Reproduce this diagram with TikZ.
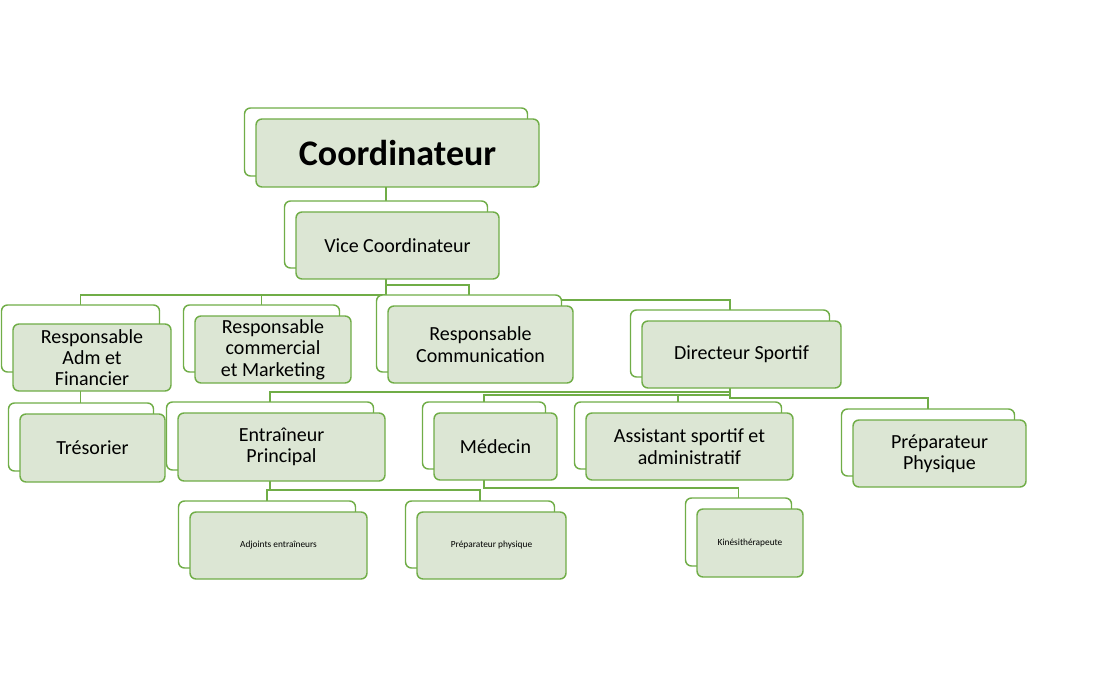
\documentclass[tikz,border=0pt]{standalone}
\usepackage{fontspec}
\setmainfont{Carlito}
\definecolor{gborder}{HTML}{70AD47}
\definecolor{gfill}{HTML}{DCE6D4}
\begin{document}
\begin{tikzpicture}[x=0.75pt,y=-0.75pt,
  backbox/.style={draw=gborder,fill=white,rounded corners=4.5pt,line width=1.1pt,inner sep=0pt},
  frontbox/.style={draw=gborder,fill=gfill,rounded corners=4.5pt,line width=1.1pt,inner sep=0pt,align=center,font=\fontsize{15}{16}\selectfont},
  link/.style={draw=gborder,line width=1.1pt}]
\useasboundingbox (0,0) rectangle (1104,688);
\newcommand\ob[7]{%
  \pgfmathsetmacro\bx{#2-11.5}\pgfmathsetmacro\by{#3-11}%
  \node[backbox,minimum width=#4*0.75pt,minimum height=#5*0.75pt] (b#1) at (\bx,\by) {};
  \node[frontbox,minimum width=#4*0.75pt,minimum height=#5*0.75pt,#7] (#1) at (#2,#3) {#6};}
% connectors (drawn first; boxes cover them)
\begin{scope}[on background layer/.try]\end{scope}
\coordinate (cA) at (386,187);
\path[link] (386,187) -- (386,201);
\path[link] (386,279) -- (386,300) -| (730,310);
\path[link] (386,295) -| (80.5,305);
\path[link] (261.5,295) -- (261.5,305);
\path[link] (386,285) -| (469,295);
\path[link] (80.5,383) -- (80.5,403);
\path[link] (730,388) |- (270,392) -- (270,402);
\path[link] (730,392) |- (484,395) -- (484,402);
\path[link] (678,395) -- (678,402);
\path[link] (730,395) |- (928,398) -- (928,409);
\path[link] (270,481) |- (267,490) -- (267,501);
\path[link] (270,490) -| (480,501);
\path[link] (484,480) |- (738.5,488) -- (738.5,498);
% boxes
\ob{coord}{397.5}{153}{283}{68}{\textbf{Coordinateur}}{font=\fontsize{27}{30}\selectfont}
\ob{vice}{397.5}{245.5}{203}{67}{Vice Coordinateur}{}
\ob{adm}{92}{349.5}{158}{67}{\raisebox{0pt}{}Responsable\\Adm et\\Financier}{yshift=-6pt}
\ob{com}{273}{349.5}{156}{67}{Responsable\\commercial\\et Marketing}{}
\ob{comm}{480.5}{344.5}{185}{77}{Responsable\\Communication}{}
\ob{dir}{741.5}{354.5}{199}{67}{Directeur Sportif}{}
\ob{tres}{92.5}{448}{145}{68}{Trésorier}{}
\ob{entr}{281.5}{447}{207}{68}{Entraîneur\\Principal}{}
\ob{med}{495.5}{446.5}{123}{67}{Médecin}{}
\ob{asst}{689.5}{446.5}{207}{67}{Assistant sportif et\\administratif}{}
\ob{prep}{939.5}{453.5}{173}{67}{Préparateur\\Physique}{}
\ob{adj}{278.5}{545.5}{177}{67}{Adjoints entraîneurs}{font=\fontsize{7}{8}\selectfont}
\ob{pp}{491.5}{545.5}{149}{67}{Préparateur physique}{font=\fontsize{7}{8}\selectfont}
\ob{kine}{750}{543}{106}{68}{Kinésithérapeute}{font=\fontsize{7}{8}\selectfont}
\end{tikzpicture}
\end{document}
